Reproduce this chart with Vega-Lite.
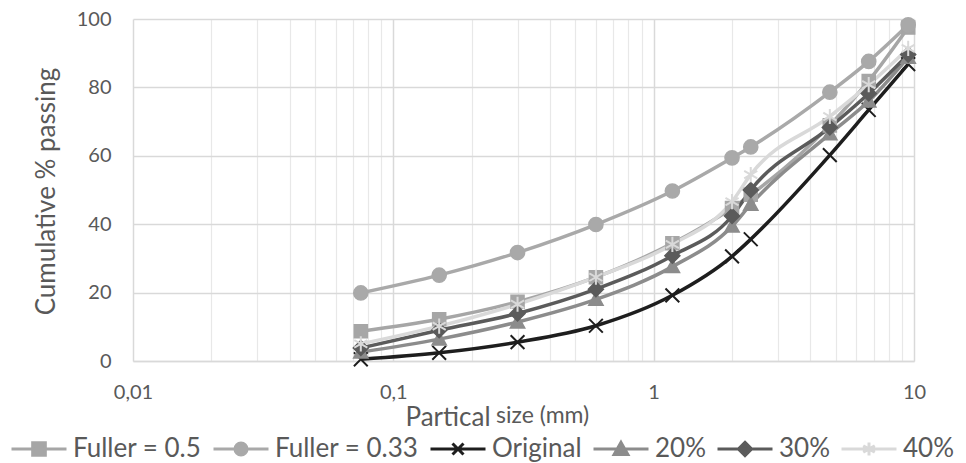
{
  "$schema": "https://vega.github.io/schema/vega-lite/v6.json",
  "width": 781,
  "height": 342,
  "autosize": {"type": "none"},
  "padding": {"left": 133, "top": 19, "right": 52, "bottom": 102},
  "background": "white",
  "view": {"stroke": null},
  "config": {
    "font": "Lato",
    "axis": {"labelFont": "Lato", "titleFont": "Lato", "labelColor": "#595959", "titleColor": "#595959", "titleFontWeight": "normal"},
    "legend": {"labelFont": "Lato", "labelColor": "#595959"}
  },
  "title": {
    "text": "size (mm)",
    "orient": "top",
    "anchor": "start",
    "frame": "group",
    "font": "Lato",
    "fontSize": 23,
    "fontWeight": "normal",
    "color": "#595959",
    "baseline": "alphabetic",
    "dx": 363,
    "dy": 441
  },
  "data": {
    "values": [
      {"series": "Fuller = 0.5", "size": 0.075, "pass": 8.7},
      {"series": "Fuller = 0.5", "size": 0.15, "pass": 12.2},
      {"series": "Fuller = 0.5", "size": 0.3, "pass": 17.3},
      {"series": "Fuller = 0.5", "size": 0.6, "pass": 24.5},
      {"series": "Fuller = 0.5", "size": 1.18, "pass": 34.4},
      {"series": "Fuller = 0.5", "size": 2, "pass": 44.7},
      {"series": "Fuller = 0.5", "size": 2.36, "pass": 48.6},
      {"series": "Fuller = 0.5", "size": 4.75, "pass": 68.9},
      {"series": "Fuller = 0.5", "size": 6.7, "pass": 81.9},
      {"series": "Fuller = 0.5", "size": 9.5, "pass": 97.5},
      {"series": "Fuller = 0.33", "size": 0.075, "pass": 19.9},
      {"series": "Fuller = 0.33", "size": 0.15, "pass": 25.1},
      {"series": "Fuller = 0.33", "size": 0.3, "pass": 31.7},
      {"series": "Fuller = 0.33", "size": 0.6, "pass": 39.9},
      {"series": "Fuller = 0.33", "size": 1.18, "pass": 49.7},
      {"series": "Fuller = 0.33", "size": 2, "pass": 59.4},
      {"series": "Fuller = 0.33", "size": 2.36, "pass": 62.6},
      {"series": "Fuller = 0.33", "size": 4.75, "pass": 78.6},
      {"series": "Fuller = 0.33", "size": 6.7, "pass": 87.6},
      {"series": "Fuller = 0.33", "size": 9.5, "pass": 98.3},
      {"series": "Original", "size": 0.075, "pass": 0.5},
      {"series": "Original", "size": 0.15, "pass": 2.4},
      {"series": "Original", "size": 0.3, "pass": 5.5},
      {"series": "Original", "size": 0.6, "pass": 10.3},
      {"series": "Original", "size": 1.18, "pass": 19.2},
      {"series": "Original", "size": 2, "pass": 30.6},
      {"series": "Original", "size": 2.36, "pass": 35.6},
      {"series": "Original", "size": 4.75, "pass": 60.2},
      {"series": "Original", "size": 6.7, "pass": 73.4},
      {"series": "Original", "size": 9.5, "pass": 86.8},
      {"series": "20%", "size": 0.075, "pass": 2.6},
      {"series": "20%", "size": 0.15, "pass": 6.4},
      {"series": "20%", "size": 0.3, "pass": 11.4},
      {"series": "20%", "size": 0.6, "pass": 18},
      {"series": "20%", "size": 1.18, "pass": 27.6},
      {"series": "20%", "size": 2, "pass": 39.4},
      {"series": "20%", "size": 2.36, "pass": 45.8},
      {"series": "20%", "size": 4.75, "pass": 66.4},
      {"series": "20%", "size": 6.7, "pass": 76},
      {"series": "20%", "size": 9.5, "pass": 88.8},
      {"series": "30%", "size": 0.075, "pass": 3.8},
      {"series": "30%", "size": 0.15, "pass": 9},
      {"series": "30%", "size": 0.3, "pass": 13.9},
      {"series": "30%", "size": 0.6, "pass": 21},
      {"series": "30%", "size": 1.18, "pass": 30.8},
      {"series": "30%", "size": 2, "pass": 42.4},
      {"series": "30%", "size": 2.36, "pass": 50},
      {"series": "30%", "size": 4.75, "pass": 68.3},
      {"series": "30%", "size": 6.7, "pass": 78.2},
      {"series": "30%", "size": 9.5, "pass": 89.6},
      {"series": "40%", "size": 0.075, "pass": 5},
      {"series": "40%", "size": 0.15, "pass": 10.2},
      {"series": "40%", "size": 0.3, "pass": 16.6},
      {"series": "40%", "size": 0.6, "pass": 24.5},
      {"series": "40%", "size": 1.18, "pass": 34.1},
      {"series": "40%", "size": 2, "pass": 46.6},
      {"series": "40%", "size": 2.36, "pass": 54.5},
      {"series": "40%", "size": 4.75, "pass": 71.5},
      {"series": "40%", "size": 6.7, "pass": 80.8},
      {"series": "40%", "size": 9.5, "pass": 91.4}
    ]
  },
  "encoding": {
    "x": {
      "field": "size",
      "type": "quantitative",
      "scale": {"type": "log", "domain": [0.01, 10], "nice": false},
      "axis": {
        "values": [0.01, 0.02, 0.03, 0.04, 0.05, 0.06, 0.07, 0.08, 0.09, 0.1, 0.2, 0.3, 0.4, 0.5, 0.6, 0.7, 0.8, 0.9, 1, 2, 3, 4, 5, 6, 7, 8, 9, 10],
        "labelExpr": "datum.value == 0.01 ? '0,01' : datum.value == 0.1 ? '0,1' : datum.value == 1 ? '1' : datum.value == 10 ? '10' : ''",
        "labelFontSize": 20,
        "labelPadding": 21,
        "labelFlush": false,
        "labelOverlap": false,
        "ticks": false,
        "domainColor": "#d9d9d9",
        "domainWidth": 1.5,
        "grid": true,
        "gridColor": {"condition": {"test": "datum.value == 0.01 || datum.value == 0.1 || datum.value == 1 || datum.value == 10", "value": "#d9d9d9"}, "value": "#e8e8e8"},
        "gridWidth": {"condition": {"test": "datum.value == 0.01 || datum.value == 0.1 || datum.value == 1 || datum.value == 10", "value": 1.5}, "value": 1.2},
        "title": "Partical",
        "titleFontSize": 26,
        "titleAlign": "left",
        "titleBaseline": "alphabetic",
        "titleX": 272,
        "titleY": 64
      }
    },
    "y": {
      "field": "pass",
      "type": "quantitative",
      "scale": {"domain": [0, 100], "nice": false},
      "axis": {
        "values": [0, 20, 40, 60, 80, 100],
        "labelFontSize": 20,
        "labelPadding": 22,
        "ticks": false,
        "domain": false,
        "grid": true,
        "gridColor": "#d9d9d9",
        "gridWidth": 1.5,
        "title": "Cumulative % passing",
        "titleFontSize": 26,
        "titleAngle": -90,
        "titleAlign": "center",
        "titleBaseline": "middle",
        "titleX": -87,
        "titleY": 172
      }
    }
  },
  "layer": [
    {
      "mark": {"type": "line", "strokeWidth": 3.5, "interpolate": "monotone"},
      "encoding": {
        "color": {
          "field": "series",
          "type": "nominal",
          "sort": null,
          "scale": {
            "domain": ["Fuller = 0.5", "Fuller = 0.33", "Original", "20%", "30%", "40%"],
            "range": ["#a6a6a6", "#a9a9a9", "#1e1e1e", "#8c8c8c", "#5b5b5b", "#d9d9d9"]
          },
          "legend": {
            "title": null,
            "orient": "none",
            "legendX": -123,
            "legendY": 401,
            "direction": "horizontal",
            "columns": 6,
            "columnPadding": 5,
            "padding": 0,
            "symbolSize": 3025,
            "symbolStrokeWidth": 3,
            "labelFontSize": 26,
            "labelOffset": 5,
            "labelColor": "#595959",
            "encode": {
              "symbols": {
                "update": {
                  "shape": {"signal": "datum.value == 'Fuller = 0.5' ? 'M-1,0H1M-0.23,-0.23H0.23V0.23H-0.23Z' : datum.value == 'Fuller = 0.33' ? 'M-1,0H1M-0.22,0A0.22,0.22,0,1,0,0.22,0A0.22,0.22,0,1,0,-0.22,0Z' : datum.value == 'Original' ? 'M-1,0H1M-0.2,-0.2L0.2,0.2M-0.2,0.2L0.2,-0.2' : datum.value == '20%' ? 'M-1,0H1M0,-0.24L0.25,0.2H-0.25Z' : datum.value == '30%' ? 'M-1,0H1M0,-0.24L0.24,0L0,0.24L-0.24,0Z' : 'M-1,0H1M0,-0.24V0.24M-0.21,-0.12L0.21,0.12M-0.21,0.12L0.21,-0.12'"},
                  "fill": {"scale": "color", "field": "value"},
                  "stroke": {"scale": "color", "field": "value"},
                  "strokeWidth": {"value": 3},
                  "opacity": {"value": 1}
                }
              }
            }
          }
        }
      }
    },
    {
      "transform": [{"filter": "datum.series == 'Fuller = 0.5'"}],
      "mark": {"type": "point", "shape": "M-1,-1H1V1H-1Z", "filled": true, "size": 170, "fill": "#a6a6a6", "stroke": "#a6a6a6", "strokeWidth": 1.5, "opacity": 1}
    },
    {
      "transform": [{"filter": "datum.series == 'Fuller = 0.33'"}],
      "mark": {"type": "point", "shape": "circle", "filled": true, "size": 200, "fill": "#a9a9a9", "stroke": "#a9a9a9", "strokeWidth": 1.5, "opacity": 1}
    },
    {
      "transform": [{"filter": "datum.series == 'Original'"}],
      "mark": {"type": "point", "shape": "M-1,-1L1,1M-1,1L1,-1", "filled": false, "size": 190, "stroke": "#1e1e1e", "strokeWidth": 2, "opacity": 1}
    },
    {
      "transform": [{"filter": "datum.series == '20%'"}],
      "mark": {"type": "point", "shape": "M0,-1.1L1.1,0.9H-1.1Z", "filled": true, "size": 170, "fill": "#8c8c8c", "stroke": "#8c8c8c", "strokeWidth": 1.5, "opacity": 1}
    },
    {
      "transform": [{"filter": "datum.series == '30%'"}],
      "mark": {"type": "point", "shape": "M0,-1.15L1.15,0L0,1.15L-1.15,0Z", "filled": true, "size": 170, "fill": "#5b5b5b", "stroke": "#5b5b5b", "strokeWidth": 1.5, "opacity": 1}
    },
    {
      "transform": [{"filter": "datum.series == '40%'"}],
      "mark": {"type": "point", "shape": "M0,-1.1V1.1M-0.95,-0.55L0.95,0.55M-0.95,0.55L0.95,-0.55", "filled": false, "size": 190, "stroke": "#d9d9d9", "strokeWidth": 2, "opacity": 1}
    }
  ]
}
